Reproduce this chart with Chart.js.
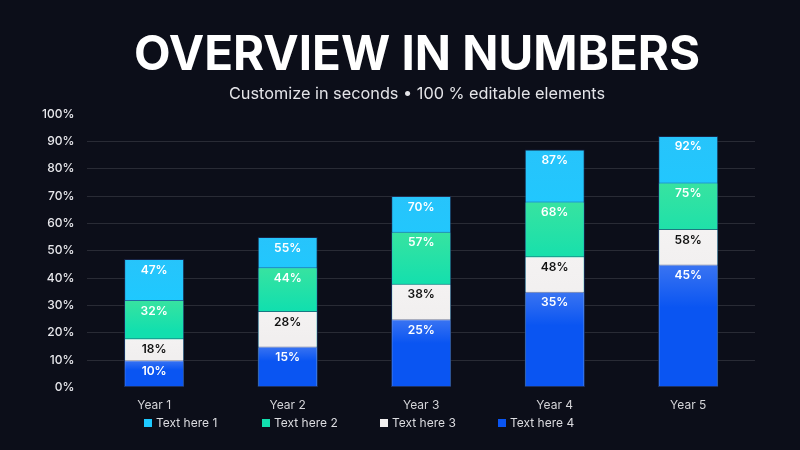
<!DOCTYPE html>
<html>
<head>
<meta charset="utf-8">
<script src="https://cdn.jsdelivr.net/npm/chart.js@4.4.1/dist/chart.umd.min.js"></script>
<style>
  html, body { margin: 0; padding: 0; background: #0c0e19; }
  #wrap { position: relative; width: 800px; height: 450px; overflow: hidden; font-family: "Inter", sans-serif; }
  #chart { position: absolute; left: 0; top: 0; }
  .title { position: absolute; left: 17px; top: 28px; width: 800px; text-align: center;
           color: #ffffff; font-size: 47.5px; font-weight: 700; line-height: 50px; }
  .subtitle { position: absolute; left: 17px; top: 83px; width: 800px; text-align: center;
              color: #e4e4e8; font-size: 16.3px; font-weight: 400; line-height: 20px; }
  #legend { position: absolute; left: 144px; top: 415px; display: flex; }
  #legend .item { width: 118px; display: flex; align-items: center; color: #dcdce0; font-size: 12px; line-height: 16px; }
  #legend .box { width: 8px; height: 8px; margin-right: 4px; }
</style>
</head>
<body>
<div id="wrap">
  <canvas id="chart" width="800" height="450"></canvas>
  <div class="title">OVERVIEW IN NUMBERS</div>
  <div class="subtitle">Customize in seconds • 100 % editable elements</div>
  <div id="legend"></div>
</div>
<script>
// --- Daten ---
const categories = ['Year 1', 'Year 2', 'Year 3', 'Year 4', 'Year 5'];
const seriesNames = ['Text here 1', 'Text here 2', 'Text here 3', 'Text here 4'];
// Werte sind kumuliert (so stehen sie auch in den Balken)
const text1 = [47, 55, 70, 87, 92];
const text2 = [32, 44, 57, 68, 75];
const text3 = [18, 28, 38, 48, 58];
const text4 = [10, 15, 25, 35, 45];
const yTicks = [0, 10, 20, 30, 40, 50, 60, 70, 80, 90, 100];

// Farben: [oben, unten] pro Serie
const colors = [
    ['#27c4fb', '#1ec9ff'],
    ['#38e3a0', '#12dfae'],
    ['#f4f2f2', '#f1efef'],
    ['#3a74f2', '#0a55f2']
];
const labelColors = ['#ffffff', '#ffffff', '#111111', '#ffffff'];

// Verlauf je Balken, von der Oberkante bis zur Nulllinie
function barGradient(idx) {
    return function(context) {
        const chart = context.chart;
        if (!chart.chartArea || context.parsed === undefined) return colors[idx][1];
        const y = chart.scales.y;
        const top = y.getPixelForValue(context.parsed.y);
        const bottom = y.getPixelForValue(0);
        const g = chart.ctx.createLinearGradient(0, top, 0, bottom);
        g.addColorStop(0, colors[idx][0]);
        g.addColorStop(0.35, colors[idx][1]);
        g.addColorStop(1, colors[idx][1]);
        return g;
    };
}

// Prozentwerte in die Balken schreiben
const valueLabels = {
    id: 'valueLabels',
    afterDatasetsDraw(chart) {
        const ctx = chart.ctx;
        ctx.save();
        ctx.font = '600 12px Inter, sans-serif';
        ctx.textAlign = 'center';
        ctx.textBaseline = 'middle';
        chart.data.datasets.forEach((ds, i) => {
            const meta = chart.getDatasetMeta(i);
            meta.data.forEach((bar, j) => {
                ctx.fillStyle = labelColors[i];
                ctx.fillText(ds.data[j] + '%', bar.x, bar.y + 11);
            });
        });
        ctx.restore();
    }
};

const seriesData = [text1, text2, text3, text4];

const datasets = seriesData.map((d, i) => ({
    label: seriesNames[i],
    data: d,
    order: 4 - i, // groesster Wert hinten
    backgroundColor: barGradient(i),
    borderColor: 'rgba(30, 50, 100, 0.6)',
    borderWidth: 1,
    borderSkipped: false,
    barPercentage: 0.45,
    categoryPercentage: 1.0
}));

new Chart(document.getElementById('chart'), {
    type: 'bar',
    data: { labels: categories, datasets: datasets },
    options: {
        responsive: false,
        animation: false,
        layout: { padding: { top: 114, left: 29, right: 45, bottom: 34 } },
        plugins: {
            legend: { display: false },
            tooltip: { enabled: false }
        },
        scales: {
            x: {
                stacked: true,
                grid: { display: false },
                border: { display: false },
                ticks: { color: '#d4d4d8', font: { family: 'Inter', size: 12 }, padding: 3 }
            },
            y: {
                stacked: false,
                min: 0,
                max: 100,
                afterBuildTicks(axis) { axis.ticks = yTicks.map(v => ({ value: v })); },
                border: { display: false },
                grid: {
                    drawTicks: false,
                    color: ctx => (ctx.tick && (ctx.tick.value === 0 || ctx.tick.value === 100)) ? 'rgba(0,0,0,0)' : '#292b35',
                    lineWidth: 1
                },
                ticks: {
                    color: '#e8e8ec',
                    font: { family: 'Inter', size: 12, weight: '500' },
                    padding: 13,
                    callback: v => v + '%'
                }
            }
        }
    },
    plugins: [valueLabels]
});

// Legende
const legendEl = document.getElementById('legend');
seriesNames.forEach((name, i) => {
    const item = document.createElement('div');
    item.className = 'item';
    const box = document.createElement('span');
    box.className = 'box';
    box.style.background = colors[i][1];
    const txt = document.createElement('span');
    txt.textContent = name;
    item.appendChild(box);
    item.appendChild(txt);
    legendEl.appendChild(item);
});
</script>
</body>
</html>
